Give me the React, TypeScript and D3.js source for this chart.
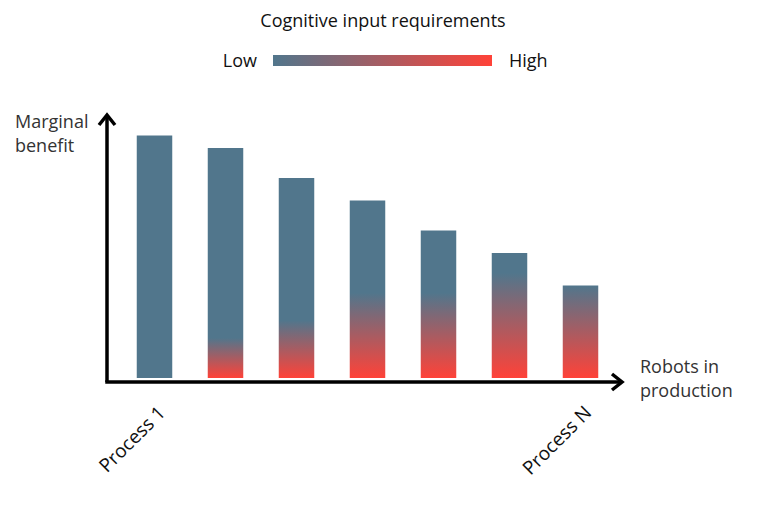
import React from "react";
import * as d3 from "d3";

const categories = ["P1", "P2", "P3", "P4", "P5", "P6", "P7"];
const benefit = [97, 92, 80, 71, 59, 50, 37];
const cognitive = [0, 16, 23, 34, 34, 42, 37];
const tickLabels = ["Process 1", "Process N"];

const BLUE = "#51768c";
const RED = "#ff4238";
const FONT = "'Open Sans', sans-serif";

export default function App() {
  const W = 765, H = 510;
  const x0 = 107, yBase = 382;
  const x = d3.scaleBand().domain(categories).range([119, 616]).paddingInner(0.5).paddingOuter(0.25);
  const y = d3.scaleLinear().domain([0, 100]).range([378, 128]);
  const bw = x.bandwidth();

  return (
    <svg width={W} height={H} style={{ position: "absolute", left: 0, top: 0, background: "#fff" }} fontFamily={FONT}>
      <defs>
        <linearGradient id="legendGrad" x1="0" x2="1" y1="0" y2="0">
          <stop offset="0" stopColor={BLUE} />
          <stop offset="1" stopColor={RED} />
        </linearGradient>
        {categories.map((c, i) => {
          const frac = benefit[i] > 0 ? cognitive[i] / benefit[i] : 0;
          return (
            <linearGradient key={c} id={`g${i}`} x1="0" x2="0" y1="0" y2="1">
              <stop offset={0} stopColor={BLUE} />
              <stop offset={1 - frac} stopColor={BLUE} />
              <stop offset={1} stopColor={frac > 0 ? RED : BLUE} />
            </linearGradient>
          );
        })}
      </defs>

      <text x={383} y={27} textAnchor="middle" fontSize={18} fill="#111">Cognitive input requirements</text>
      <text x={257} y={67} textAnchor="end" fontSize={18} fill="#111">Low</text>
      <rect x={273} y={55} width={219} height={11} fill="url(#legendGrad)" />
      <text x={509} y={67} textAnchor="start" fontSize={18} fill="#111">High</text>

      {categories.map((c, i) => (
        <rect key={c} x={x(c)} y={y(benefit[i])} width={bw} height={y(0) - y(benefit[i])} fill={`url(#g${i})`} />
      ))}

      <g stroke="#000" strokeWidth={3.5} fill="none" strokeLinecap="butt">
        <line x1={x0} y1={yBase} x2={x0} y2={116} />
        <polyline points={`${x0 - 8},${125} ${x0},${115} ${x0 + 8},${125}`} strokeLinejoin="miter" />
        <line x1={x0 - 1.75} y1={yBase} x2={620} y2={yBase} />
        <polyline points={`${612},${yBase - 8} ${622},${yBase} ${612},${yBase + 8}`} strokeLinejoin="miter" />
      </g>

      <text x={15} y={128} fontSize={18} fill="#333">Marginal</text>
      <text x={15} y={152} fontSize={18} fill="#333">benefit</text>
      <text x={640} y={373} fontSize={18} fill="#333">Robots in</text>
      <text x={640} y={397} fontSize={18} fill="#333">production</text>

      {[categories[0], categories[categories.length - 1]].map((c, i) => {
        const cx = (x(c) as number) + bw / 2 + 12;
        const cy = 414;
        return (
          <text key={c} x={cx} y={cy} textAnchor="end" fontSize={19} fill="#111" transform={`rotate(-45,${cx},${cy})`}>
            {tickLabels[i]}
          </text>
        );
      })}
    </svg>
  );
}
